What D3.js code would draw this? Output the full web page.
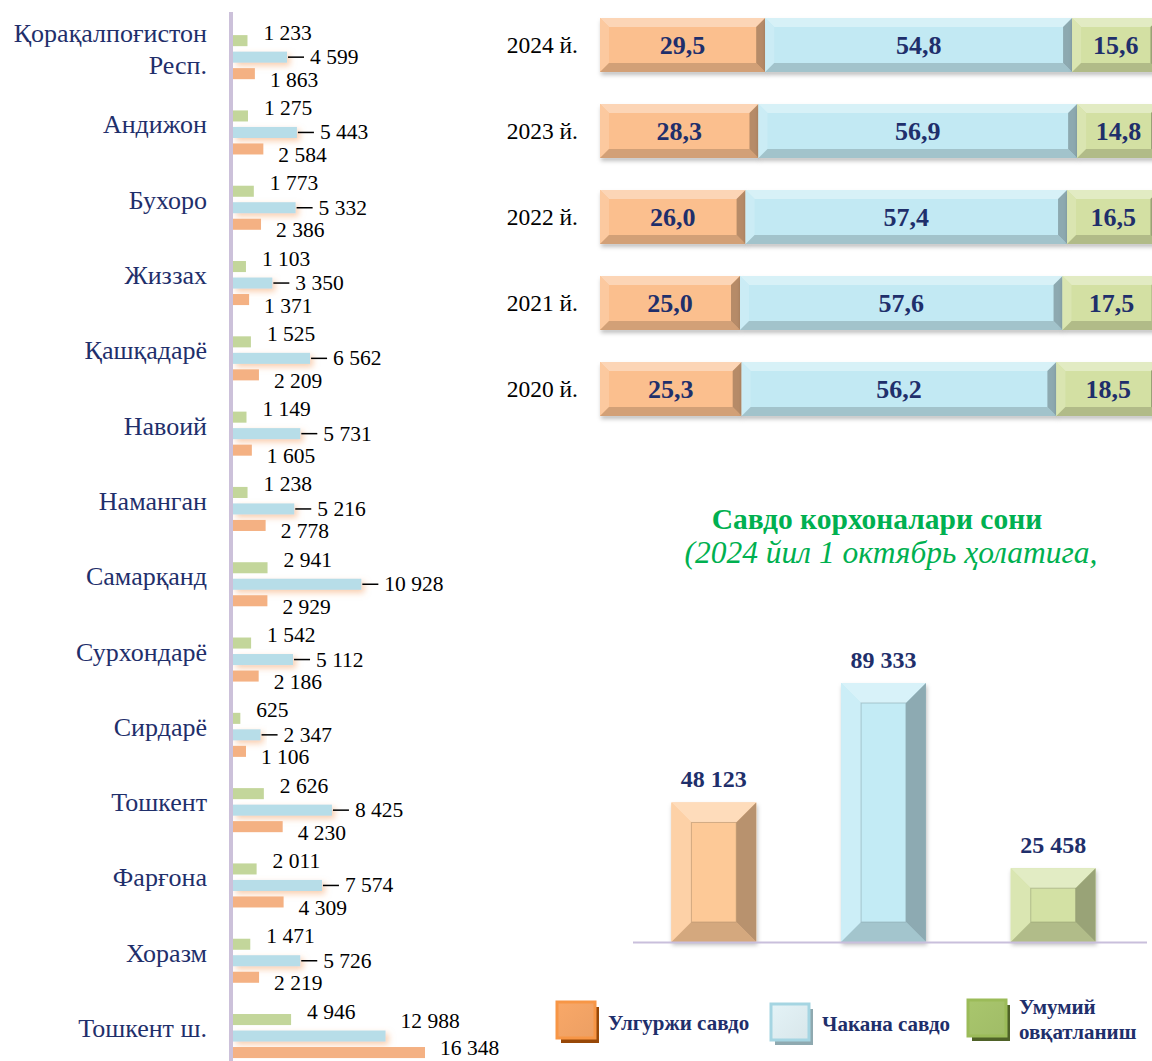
<!DOCTYPE html>
<html>
<head>
<meta charset="utf-8">
<script src="https://cdn.jsdelivr.net/npm/d3@7"></script>
<style>
  body { margin: 0; background: #fff; }
  svg { display: block; font-family: "Liberation Serif", "Times New Roman", serif; }
</style>
</head>
<body>
<div id="chart"></div>
<script>
// ---- data ----
const regions = ['Қорақалпоғистон\nРесп.', 'Андижон', 'Бухоро', 'Жиззах', 'Қашқадарё', 'Навоий', 'Наманган',
	'Самарқанд', 'Сурхондарё', 'Сирдарё', 'Тошкент', 'Фарғона', 'Хоразм', 'Тошкент ш.'];
const wholesale = [1863, 2584, 2386, 1371, 2209, 1605, 2778, 2929, 2186, 1106, 4230, 4309, 2219, 16348];
const retail = [4599, 5443, 5332, 3350, 6562, 5731, 5216, 10928, 5112, 2347, 8425, 7574, 5726, 12988];
const catering = [1233, 1275, 1773, 1103, 1525, 1149, 1238, 2941, 1542, 625, 2626, 2011, 1471, 4946];

const years = ['2024 й.', '2023 й.', '2022 й.', '2021 й.', '2020 й.'];
const shareWholesale = [29.5, 28.3, 26.0, 25.0, 25.3];
const shareRetail = [54.8, 56.9, 57.4, 57.6, 56.2];
const shareCatering = [15.6, 14.8, 16.5, 17.5, 18.5];

const sectors = ['Улгуржи савдо', 'Чакана савдо', 'Умумий овқатланиш'];
const sectorCounts = [48123, 89333, 25458];

const titleText = 'Савдо корхоналари сони';
const subtitleText = '(2024 йил 1 октябрь ҳолатига,';

// ---- setup ----
const width = 1152, height = 1061;
const navy = '#1f2f6b';
const locale = d3.formatLocale({ decimal: ',', thousands: ' ', grouping: [3], currency: ['', ''] });
const fmtInt = locale.format(',d');
const fmtPct = locale.format('.1f');

const svg = d3.select('#chart').append('svg').attr('width', width).attr('height', height);
const defs = svg.append('defs');

// orange glow behind the retail bars
const glow = defs.append('filter').attr('id', 'glow').attr('x', '-10%').attr('y', '-50%').attr('width', '130%').attr('height', '250%');
glow.append('feDropShadow').attr('dx', 3).attr('dy', 3).attr('stdDeviation', 3)
	.attr('flood-color', '#f4a46a').attr('flood-opacity', 0.55);

const shadow = defs.append('filter').attr('id', 'shadow').attr('x', '-5%').attr('y', '-20%').attr('width', '115%').attr('height', '150%');
shadow.append('feDropShadow').attr('dx', 1).attr('dy', 3).attr('stdDeviation', 2)
	.attr('flood-color', '#000').attr('flood-opacity', 0.25);

// draws a bevelled box (PowerPoint-like)
function bevel(g, x, y, w, h, b, face, inner) {
	const c = d3.color(face);
	const box = g.append('g').attr('filter', 'url(#shadow)');
	box.append('rect').attr('x', x).attr('y', y).attr('width', w).attr('height', h).attr('fill', face);
	const poly = (pts, fill) => box.append('polygon').attr('points', pts.map(p => p.join(',')).join(' ')).attr('fill', fill);
	poly([[x, y], [x + w, y], [x + w - b, y + b], [x + b, y + b]], d3.interpolateRgb(face, '#fff')(0.35));
	poly([[x, y], [x + b, y + b], [x + b, y + h - b], [x, y + h]], d3.interpolateRgb(face, '#fff')(0.15));
	poly([[x, y + h], [x + b, y + h - b], [x + w - b, y + h - b], [x + w, y + h]], c.darker(0.5));
	poly([[x + w, y], [x + w, y + h], [x + w - b, y + h - b], [x + w - b, y + b]], c.darker(0.9));
	if (inner) {
		box.append('rect').attr('x', x + b).attr('y', y + b).attr('width', w - 2 * b).attr('height', h - 2 * b)
			.attr('fill', 'none').attr('stroke', c.darker(0.9)).attr('stroke-width', 1).attr('opacity', 0.6);
	}
}

// ---- left chart: regions ----
const leftG = svg.append('g').attr('class', 'regions');
const xLeft = d3.scaleLinear().domain([0, 16348]).range([233, 425]);
const yGroup = d3.scaleBand().domain(regions).range([19.5, 1073.7]);
const ySub = d3.scaleBand().domain(['catering', 'retail', 'wholesale'])
	.range([-24.75, 24.75]).paddingInner(0.33).paddingOuter(0.165);

const series = [
	{ key: 'catering', values: catering, color: '#c3d69b' },
	{ key: 'retail', values: retail, color: '#b7dde8' },
	{ key: 'wholesale', values: wholesale, color: '#f4b183' }
];

const center = r => yGroup(r) + yGroup.bandwidth() / 2;

for (const s of series) {
	leftG.selectAll('.bar-' + s.key)
		.data(regions)
		.join('rect')
		.attr('class', 'bar-' + s.key)
		.attr('x', xLeft(0))
		.attr('y', r => center(r) + ySub(s.key))
		.attr('width', (r, i) => xLeft(s.values[i]) - xLeft(0))
		.attr('height', ySub.bandwidth())
		.attr('fill', s.color)
		.attr('filter', s.key === 'retail' ? 'url(#glow)' : null);
}

// axis line
leftG.append('line')
	.attr('x1', 231).attr('x2', 231).attr('y1', 12).attr('y2', height)
	.attr('stroke', '#ccc1da').attr('stroke-width', 4);

// region names
leftG.selectAll('.region-label')
	.data(regions)
	.join('text')
	.attr('class', 'region-label')
	.attr('text-anchor', 'end')
	.attr('font-size', 26)
	.attr('fill', navy)
	.each(function (r) {
		const lines = r.split('\n');
		const t = d3.select(this);
		lines.forEach((line, k) => {
			t.append('tspan').attr('x', 207)
				.attr('y', lines.length > 1 ? center(r) - 15 + k * 32 : center(r) + 1)
				.text(line);
		});
	});

// value labels
const labelG = leftG.append('g').attr('font-size', 21.5).attr('fill', '#000');
labelG.selectAll('.lbl-catering')
	.data(regions)
	.join('text')
	.attr('class', 'lbl-catering')
	.attr('x', (r, i) => xLeft(catering[i]) + 16)
	.attr('y', r => center(r) + ySub('catering') + ySub.bandwidth() / 2 - 1)
	.text((r, i) => fmtInt(catering[i]));

// when the wholesale bar is longer, the retail label goes up and right, without leader
const lifted = i => wholesale[i] > retail[i];

labelG.selectAll('.leader')
	.data(regions.filter((r, i) => !lifted(i)))
	.join('line')
	.attr('class', 'leader')
	.attr('x1', r => xLeft(retail[regions.indexOf(r)]) + 1)
	.attr('x2', r => xLeft(retail[regions.indexOf(r)]) + 17)
	.attr('y1', r => center(r))
	.attr('y2', r => center(r))
	.attr('stroke', '#000').attr('stroke-width', 1.5);

labelG.selectAll('.lbl-retail')
	.data(regions)
	.join('text')
	.attr('class', 'lbl-retail')
	.attr('x', (r, i) => xLeft(retail[i]) + (lifted(i) ? 15 : 23))
	.attr('y', (r, i) => center(r) + (lifted(i) ? -8 : 7))
	.text((r, i) => fmtInt(retail[i]));

labelG.selectAll('.lbl-wholesale')
	.data(regions)
	.join('text')
	.attr('class', 'lbl-wholesale')
	.attr('x', (r, i) => xLeft(wholesale[i]) + 15)
	.attr('y', r => Math.min(center(r) + ySub('wholesale') + ySub.bandwidth() / 2 + 13, height - 6))
	.text((r, i) => fmtInt(wholesale[i]));

// ---- top right: structure by year (100% stacked) ----
const topG = svg.append('g').attr('class', 'shares');
const xShare = d3.scaleLinear().domain([0, 100]).range([600, 1160]);
const yYear = d3.scaleBand().domain(years).range([2, 432]).paddingInner(0.372).paddingOuter(0.186);
const shareSeries = [
	{ values: shareWholesale, color: '#fbbf8e' },
	{ values: shareRetail, color: '#c2e9f3' },
	{ values: shareCatering, color: '#d3e0a3' }
];

years.forEach((yr, i) => {
	let acc = 0;
	shareSeries.forEach(s => {
		const v = s.values[i];
		const x0 = xShare(acc), x1 = xShare(acc + v);
		bevel(topG, x0, yYear(yr), x1 - x0, yYear.bandwidth(), 9, s.color, false);
		topG.append('text')
			.attr('x', (x0 + x1) / 2)
			.attr('y', yYear(yr) + yYear.bandwidth() / 2 + 9)
			.attr('text-anchor', 'middle')
			.attr('font-size', 26).attr('font-weight', 'bold').attr('fill', navy)
			.text(fmtPct(v));
		acc += v;
	});
	topG.append('text')
		.attr('x', 578)
		.attr('y', yYear(yr) + yYear.bandwidth() / 2 + 8)
		.attr('text-anchor', 'end')
		.attr('font-size', 23.5).attr('fill', '#000')
		.text(yr);
});

// ---- bottom right: number of enterprises ----
const colG = svg.append('g').attr('class', 'counts');
const xCol = d3.scaleBand().domain(sectors).range([629, 1138]).paddingInner(0.5).paddingOuter(0.25);
const yCol = d3.scaleLinear().domain([0, 89333]).range([942, 683]);
const colColors = ['#fdc997', '#c3ebf5', '#d3e1a4'];

colG.append('text')
	.attr('x', 877).attr('y', 529)
	.attr('text-anchor', 'middle')
	.attr('font-size', 29.5).attr('font-weight', 'bold').attr('fill', '#00b050')
	.text(titleText);
colG.append('text')
	.attr('x', 891).attr('y', 563)
	.attr('text-anchor', 'middle')
	.attr('font-size', 31.5).attr('font-style', 'italic').attr('fill', '#00b050')
	.text(subtitleText);

sectors.forEach((s, i) => {
	bevel(colG, xCol(s), yCol(sectorCounts[i]), xCol.bandwidth(), yCol(0) - yCol(sectorCounts[i]), 20, colColors[i], true);
	colG.append('text')
		.attr('x', xCol(s) + xCol.bandwidth() / 2)
		.attr('y', yCol(sectorCounts[i]) - 15)
		.attr('text-anchor', 'middle')
		.attr('font-size', 24).attr('font-weight', 'bold').attr('fill', navy)
		.text(fmtInt(sectorCounts[i]));
});

colG.append('line')
	.attr('x1', 633).attr('x2', 1147).attr('y1', 942.5).attr('y2', 942.5)
	.attr('stroke', '#c9bfdc').attr('stroke-width', 2);

// ---- legend ----
const legendG = svg.append('g').attr('class', 'legend');
const legendItems = [
	{ x: 557, y: 1002, face: '#f79646', light: '#f9a868', shade: '#984807', lines: ['Улгуржи савдо'], ty: [1030] },
	{ x: 771, y: 1004, face: '#a5d5e2', light: '#e4f3f7', shade: '#8fa9b0', lines: ['Чакана савдо'], ty: [1031] },
	{ x: 968, y: 1000, face: '#9bbb59', light: '#a9c66d', shade: '#4f6228', lines: ['Умумий', 'овқатланиш'], ty: [1014, 1039] }
];
legendItems.forEach((d, i) => {
	const grad = defs.append('linearGradient').attr('id', 'lg' + i)
		.attr('x1', 0).attr('y1', 0).attr('x2', 1).attr('y2', 1);
	grad.append('stop').attr('offset', '0%').attr('stop-color', d.light);
	grad.append('stop').attr('offset', '100%').attr('stop-color', d3.color(d.light).darker(0.15));
	legendG.append('rect').attr('x', d.x + 4).attr('y', d.y + 5).attr('width', 38).attr('height', 36).attr('fill', d.shade);
	legendG.append('rect').attr('x', d.x).attr('y', d.y).attr('width', 38).attr('height', 36)
		.attr('fill', `url(#lg${i})`).attr('stroke', d.face).attr('stroke-width', 3);
	const t = legendG.append('text').attr('font-size', 21).attr('font-weight', 'bold').attr('fill', navy);
	d.lines.forEach((line, k) => {
		t.append('tspan').attr('x', d.x + 51).attr('y', d.ty[k]).text(line);
	});
});
</script>
</body>
</html>
